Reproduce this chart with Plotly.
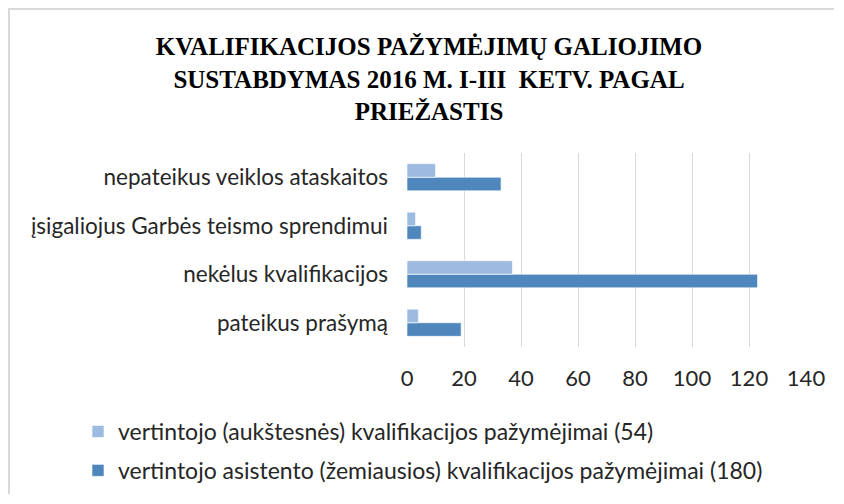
import plotly.graph_objects as go

categories = ["pateikus prašymą", "nekėlus kvalifikacijos",
              "įsigaliojus Garbės teismo sprendimui", "nepateikus veiklos ataskaitos"]
higher_vals = [4, 37, 3, 10]
assistant_vals = [19, 123, 5, 33]
higher_name = "vertintojo (aukštesnės) kvalifikacijos pažymėjimai (54)"
assistant_name = "vertintojo asistento (žemiausios) kvalifikacijos pažymėjimai (180)"
x_ticks = [0, 20, 40, 60, 80, 100, 120, 140]
title_text = ("KVALIFIKACIJOS PAŽYMĖJIMŲ GALIOJIMO<br>"
              "SUSTABDYMAS 2016 M. I-III  KETV. PAGAL<br>PRIEŽASTIS")

dark = "#4F87BD"
light = "#9DBBE0"
label_font = "Lato, 'Open Sans', sans-serif"

fig = go.Figure()
fig.add_trace(go.Bar(y=categories, x=assistant_vals, orientation="h", name=assistant_name,
                     marker=dict(color=dark, line=dict(color="#ffffff", width=0.6)),
                     legendgroup="b", legendrank=2))
fig.add_trace(go.Bar(y=categories, x=higher_vals, orientation="h", name=higher_name,
                     marker=dict(color=light, line=dict(color="#ffffff", width=0.6)),
                     legendgroup="a", legendrank=1))

# figure sits at an 8px page offset; sized so the page needs no scrollbars
W, H = 826, 486
L, T = 399, 145
plot_right, plot_bottom = 798, 339
R, B = W - plot_right, H - plot_bottom
pw, ph = W - L - R, H - T - B

def px(x):
    return (x - L) / pw

def py(y):
    return (H - B - y) / ph

fig.update_layout(
    width=W, height=H,
    margin=dict(l=L, r=R, t=T, b=B, autoexpand=False),
    paper_bgcolor="white", plot_bgcolor="white",
    barmode="group", bargap=0.44, bargroupgap=0,
    title=dict(text=title_text, x=421 / W, xanchor="center", y=1 - 47 / H, yanchor="middle",
               font=dict(family="'Liberation Serif', 'Times New Roman', serif", size=25,
                         color="#000000", weight="bold")),
    xaxis=dict(range=[0, 140], tickvals=x_ticks, showgrid=True, gridcolor="#D9D9D9", gridwidth=1,
               zeroline=False, showline=False, ticks="", ticklabelstandoff=16,
               tickfont=dict(family=label_font, size=22, color="#262626"), fixedrange=True),
    yaxis=dict(showgrid=False, zeroline=False, showline=False, ticks="", ticklabelstandoff=18,
               tickfont=dict(family=label_font, size=22.5, color="#262626"), fixedrange=True),
    showlegend=True,
    legend=dict(x=px(70), xanchor="left", y=py(402), yanchor="top", orientation="v",
                font=dict(family=label_font, size=23, color="#262626"),
                tracegroupgap=6, itemwidth=30, bgcolor="rgba(0,0,0,0)"),
    shapes=[
        dict(type="path", xref="paper", yref="paper",
             path=f"M {px(1)} {py(H)} L {px(1)} {py(1)} L {px(W)} {py(1)}",
             line=dict(color="#D9D9D9", width=2)),
    ],
)

fig.write_html("out.html", config={"displayModeBar": False})
